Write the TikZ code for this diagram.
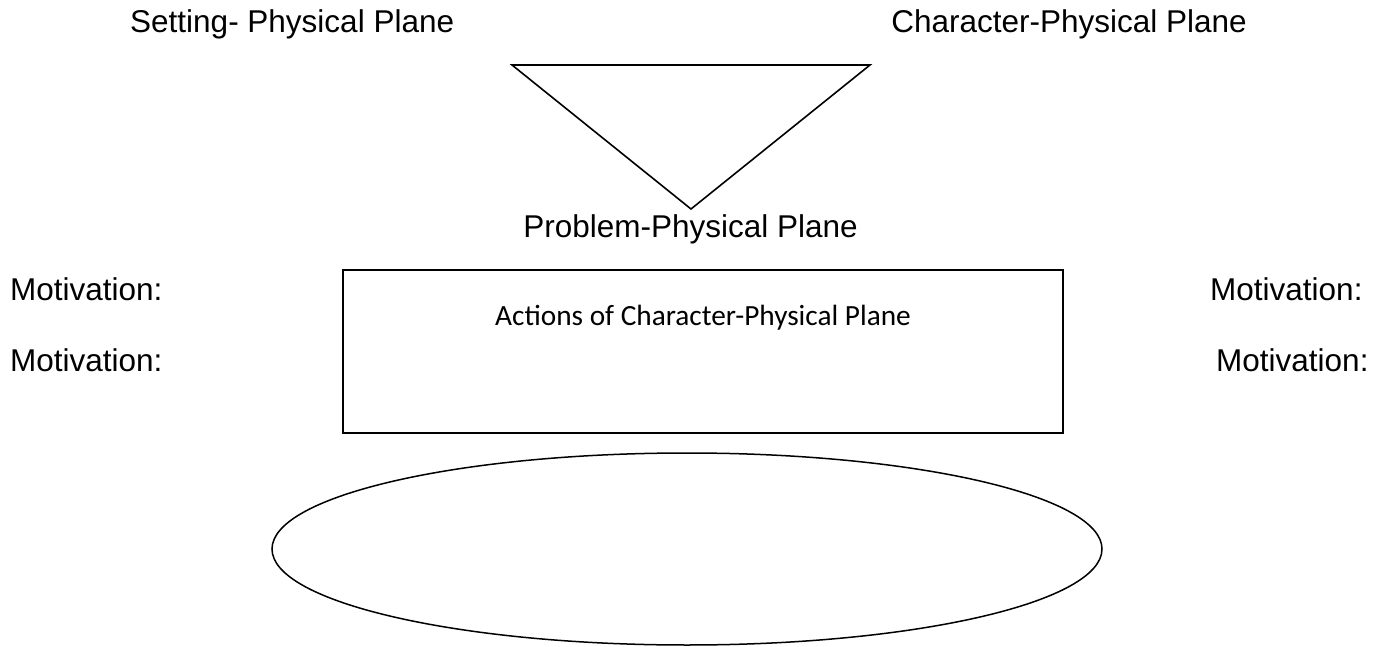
\documentclass[tikz,border=0pt]{standalone}
\usepackage{fontspec}
\setmainfont{Liberation Sans}
\newfontfamily\calib{Carlito}
\usetikzlibrary{shapes.geometric}
\tikzset{
  lbl/.style={inner sep=0pt, font=\fontsize{31.5}{36}\selectfont},
  actlbl/.style={inner sep=0pt, font=\calib\fontsize{29.3}{34}\selectfont},
  shapeline/.style={draw=black, line width=1.6pt},
}
\begin{document}
\begin{tikzpicture}[x=1pt,y=-1pt]
\useasboundingbox (0,0) rectangle (1387,647);
% top labels
\node[lbl, anchor=base west] (setting) at (130,33) {Setting- Physical Plane};
\node[lbl, anchor=base east] (character) at (1247,33) {Character-Physical Plane};
% triangle
\coordinate (tl) at (512,65);
\coordinate (tr) at (870,65);
\coordinate (tb) at (691,209);
\draw[shapeline, line join=miter] (tl) -- (tr) -- (tb) -- cycle;
\node[lbl, anchor=base east] (problem) at (858,237) {Problem-Physical Plane};
% motivations
\node[lbl, anchor=base west] (ml1) at (10,300) {Motivation:};
\node[lbl, anchor=base west] (ml2) at (10,371) {Motivation:};
\node[lbl, anchor=base west] (mr1) at (1210,300) {Motivation:};
\node[lbl, anchor=base west] (mr2) at (1216,371) {Motivation:};
% rectangle
\draw[shapeline] (343,270) rectangle (1063,433);
\node[actlbl, anchor=base] (actions) at (703,325) {Actions of Character-Physical Plane};
% ellipse
\draw[shapeline, line width=1.5pt] (687,549) ellipse [x radius=415, y radius=96];
\end{tikzpicture}
\end{document}
